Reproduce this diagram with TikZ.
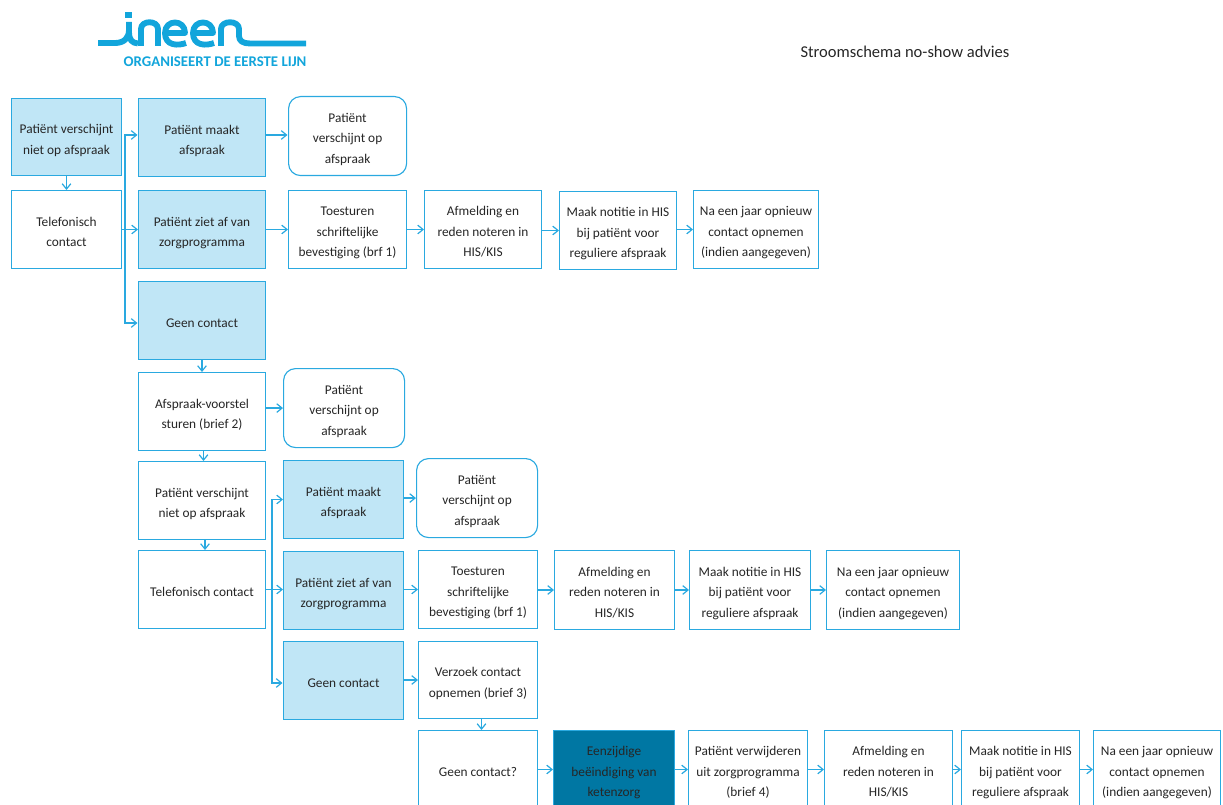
\documentclass[tikz,border=0pt]{standalone}
\usepackage{fontspec}
\setmainfont{Carlito}
\usetikzlibrary{arrows.meta}
\definecolor{ln}{HTML}{2AA9E0}
\definecolor{lite}{HTML}{C0E6F6}
\definecolor{dark}{HTML}{0077A3}
\definecolor{logo}{HTML}{12A5DB}
\tikzset{
  x=0.75pt,y=-0.75pt,
  bx/.style={draw=ln,line width=0.75pt,align=center,inner sep=0pt,font=\fontsize{10}{15.4}\selectfont,text=black!85},
  wbox/.style={bx,fill=white},
  lbox/.style={bx,fill=lite},
  dbox/.style={bx,fill=dark},
  rbox/.style={bx,fill=white,rounded corners=9pt,line width=0.85pt},
  arr/.style={draw=ln,line width=0.9pt,-{Straight Barb[length=4pt,width=6.5pt,line width=0.9pt]}},
  lg/.style={draw=logo,line width=4.4pt,line cap=butt,line join=round}
}
\newcommand{\bxn}[7]{% style,name,x1,y1,x2,y2,text
  \node[#1,minimum width=(#5-#3)*0.75pt,minimum height=(#6-#4)*0.75pt,anchor=north west] (#2) at (#3,#4)
    {\raisebox{-2.1pt}[\height][\depth]{\begin{tabular}{@{}c@{}}#7\end{tabular}}};}
\begin{document}
\begin{tikzpicture}
\useasboundingbox (0,0) rectangle (1223,805);
% logo
\draw[lg] (98,43) -- (115,43) .. controls (124,43) and (129,38) .. (129,30) -- (129,22);
\fill[logo] (125,12) rectangle (132,18);
\draw[lg] (129,32) .. controls (129,40) and (132,43) .. (138,43.5);
\draw[lg] (141,46) -- (141,29) .. controls (141,20) and (158,20) .. (158,29) -- (158,46);
\draw[lg] (165,33) -- (185,33) .. controls (185,19) and (165,19) .. (165,33) .. controls (165,46) and (178,46) .. (186,43);
\draw[lg] (193,33) -- (213,33) .. controls (213,19) and (193,19) .. (193,33) .. controls (193,46) and (206,46) .. (214,43);
\draw[lg] (221,46) -- (221,29) .. controls (221,20) and (239,20) .. (239,29) -- (239,36) .. controls (239,41) and (243,43.5) .. (250,43.5) -- (306,43.5);
\node[font=\fontsize{11.1}{12}\selectfont\bfseries,text=logo,inner sep=0pt] (tag) at (215,62) {ORGANISEERT DE EERSTE LIJN};
\node[font=\fontsize{12.4}{14}\selectfont,text=black!85,inner sep=0pt] (title) at (905,52) {Stroomschema no-show advies};
% row 1
\bxn{lbox}{A}{11}{98}{121}{175}{Patiënt verschijnt\\niet op afspraak}
\bxn{lbox}{B}{138}{98}{265}{176}{Patiënt maakt\\afspraak}
\bxn{rbox}{C}{288}{96}{406}{175}{Patiënt\\verschijnt op\\afspraak}
% row 2
\bxn{wbox}{D}{11}{190}{121}{268}{Telefonisch\\contact}
\bxn{lbox}{E}{138}{190}{265}{268}{Patiënt ziet af van\\zorgprogramma}
\bxn{wbox}{F}{288}{190}{406}{268}{Toesturen\\schriftelijke\\bevestiging (brf 1)}
\bxn{wbox}{G}{424}{190}{541}{268}{Afmelding en\\reden noteren in\\HIS/KIS}
\bxn{wbox}{H}{559}{191}{676}{269}{Maak notitie in HIS\\bij patiënt voor\\reguliere afspraak}
\bxn{wbox}{I}{693}{190}{818}{268}{Na een jaar opnieuw\\contact opnemen\\(indien aangegeven)}
% column
\bxn{lbox}{J}{138}{281}{265}{359}{Geen contact}
\bxn{wbox}{K}{138}{372}{265}{450}{Afspraak-voorstel\\sturen (brief 2)}
\bxn{rbox}{L}{283}{368}{404}{447}{Patiënt\\verschijnt op\\afspraak}
\bxn{wbox}{M}{138}{461}{265}{539}{Patiënt verschijnt\\niet op afspraak}
\bxn{wbox}{N}{138}{550}{265}{628}{Telefonisch contact}
\bxn{lbox}{O}{283}{460}{403}{538}{Patiënt maakt\\afspraak}
\bxn{rbox}{P}{416}{458}{537}{537}{Patiënt\\verschijnt op\\afspraak}
\bxn{lbox}{Q}{283}{551}{403}{629}{Patiënt ziet af van\\zorgprogramma}
\bxn{wbox}{R}{418}{550}{537}{628}{Toesturen\\schriftelijke\\bevestiging (brf 1)}
\bxn{wbox}{S}{554}{550}{674}{629}{Afmelding en\\reden noteren in\\HIS/KIS}
\bxn{wbox}{T}{689}{550}{810}{629}{Maak notitie in HIS\\bij patiënt voor\\reguliere afspraak}
\bxn{wbox}{U}{826}{550}{959}{629}{Na een jaar opnieuw\\contact opnemen\\(indien aangegeven)}
\bxn{lbox}{V}{283}{641}{403}{719}{Geen contact}
\bxn{wbox}{W}{418}{641}{537}{718}{Verzoek contact\\opnemen (brief 3)}
% bottom row (runs to the page edge)
\bxn{wbox}{X}{418}{730}{537}{808}{Geen contact?}
\bxn{dbox}{Y}{553}{730}{674}{808}{Eenzijdige\\beëindiging van\\ketenzorg}
\bxn{wbox}{Z}{688}{730}{807}{808}{Patiënt verwijderen\\uit zorgprogramma\\(brief 4)}
\bxn{wbox}{AA}{824}{730}{952}{808}{Afmelding en\\reden noteren in\\HIS/KIS}
\bxn{wbox}{AB}{961}{730}{1079}{808}{Maak notitie in HIS\\bij patiënt voor\\reguliere afspraak}
\bxn{wbox}{AC}{1093}{730}{1220}{808}{Na een jaar opnieuw\\contact opnemen\\(indien aangegeven)}
% connectors
\coordinate (tD) at (125,228);
\coordinate (bIn) at (137.5,135);
\coordinate (jIn) at (137.5,323);
\coordinate (cIn) at (287.5,135);
\coordinate (tN) at (272,591);
\coordinate (vIn) at (282.5,683);
\coordinate (kmX) at (203.5,0);
\coordinate (mnX) at (205,0);
\coordinate (wxX) at (481.5,0);
\draw[arr] (A.south) -- (D.north);
\draw[arr] (D.east |- E.west) -- (E.west);
\draw[arr] (tD) |- (bIn);
\draw[arr] (tD) |- (jIn);
\draw[arr] (B.east |- cIn) -- (cIn);
\foreach \a/\b in {E/F,F/G,G/H,H/I,K/L,O/P,Q/R,R/S,S/T,T/U,V/W,X/Y,Y/Z,Z/AA,AA/AB,AB/AC}{
  \draw[arr] (\a.east |- \b.west) -- (\b.west);
}
\draw[arr] (J.south) -- (K.north);
\draw[arr] (kmX |- K.south) -- (kmX |- M.north);
\draw[arr] (mnX |- M.south) -- (mnX |- N.north);
\draw[arr] (N.east) -- (Q.west |- N.east);
\draw[arr] (tN) |- (O.west);
\draw[arr] (tN) |- (vIn);
\draw[arr] (wxX |- W.south) -- (wxX |- X.north);
\end{tikzpicture}
\end{document}
